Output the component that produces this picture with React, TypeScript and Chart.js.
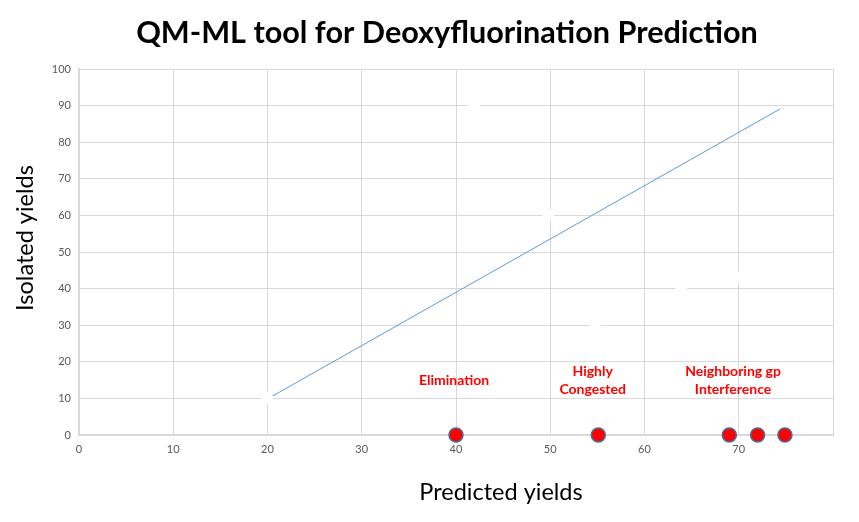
import React, { useEffect, useRef } from "react";
import { Chart, registerables } from "chart.js";

Chart.register(...registerables);

const titleText = "QM-ML tool for Deoxyfluorination Prediction";
const xTitle = "Predicted yields";
const yTitle = "Isolated yields";

// red flagged compounds (predicted, isolated)
const flaggedX = [40, 55.1, 69, 72, 74.9];
const flaggedY = [0, 0, 0, 0, 0];

// hidden (white) points
const hiddenX = [20, 41.9, 49.8, 54.8, 63.9, 70, 66.8];
const hiddenY = [10, 90.4, 60.1, 30, 40.4, 43, 73];

// trend line endpoints
const trendX = [20.3, 74.4];
const trendY = [10.3, 89.1];

// annotation labels
const noteLines = [["Elimination"], ["Highly", "Congested"], ["Neighboring gp", "Interference"]];
const noteX = [39.8, 54.5, 69.4];
const noteY = [15, 15, 15];

const FONT = "Lato, 'Open Sans', sans-serif";

const notesPlugin = {
  id: "notes",
  afterDatasetsDraw(chart: any) {
    const { ctx, scales } = chart;
    ctx.save();
    ctx.fillStyle = "#FF0000";
    ctx.font = `bold 14px ${FONT}`;
    ctx.textAlign = "center";
    ctx.textBaseline = "middle";
    noteLines.forEach((lines, i) => {
      const cx = scales.x.getPixelForValue(noteX[i]);
      const cy = scales.y.getPixelForValue(noteY[i]);
      const lh = 18;
      const start = cy - ((lines.length - 1) * lh) / 2;
      lines.forEach((t, j) => ctx.fillText(t, cx, start + j * lh));
    });
    ctx.restore();
  },
};

const titlePlugin = {
  id: "bigTitle",
  afterDraw(chart: any) {
    const { ctx } = chart;
    ctx.save();
    ctx.fillStyle = "#000";
    ctx.textAlign = "center";
    ctx.textBaseline = "middle";
    ctx.font = `bold 30.6px ${FONT}`;
    ctx.fillText(titleText, 447, 33);
    ctx.font = `23.5px ${FONT}`;
    ctx.fillText(xTitle, 501, 492);
    ctx.translate(25, 238);
    ctx.rotate(-Math.PI / 2);
    ctx.fillText(yTitle, 0, 0);
    ctx.restore();
  },
};

export default function App() {
  const ref = useRef<HTMLCanvasElement>(null);
  useEffect(() => {
    document.body.style.margin = "0";
    const chart = new Chart(ref.current!, {
      type: "scatter",
      data: {
        datasets: [
          {
            label: "flagged",
            data: flaggedX.map((x, i) => ({ x, y: flaggedY[i] })),
            backgroundColor: "#FF0000",
            borderColor: "#41719C",
            borderWidth: 1.5,
            pointRadius: 7,
            clip: false,
            order: 0,
          },
          {
            label: "hidden",
            data: hiddenX.map((x, i) => ({ x, y: hiddenY[i] })),
            backgroundColor: "#FFFFFF",
            borderColor: "#FFFFFF",
            borderWidth: 0,
            pointRadius: 6,
            order: 1,
          },
          {
            label: "trend",
            data: trendX.map((x, i) => ({ x, y: trendY[i] })),
            showLine: true,
            borderColor: "#5B9BD5",
            borderWidth: 1,
            pointRadius: 0,
            order: 2,
          },
        ],
      },
      options: {
        animation: false,
        responsive: false,
        layout: { padding: { top: 69, right: 26, left: 0, bottom: 0 } },
        plugins: { legend: { display: false }, tooltip: { enabled: false } },
        scales: {
          x: {
            type: "linear",
            min: 0,
            max: 80,
            ticks: {
              stepSize: 10,
              color: "#595959",
              font: { size: 11, family: FONT },
              padding: 8,
              callback: (v: any) => (v === 80 ? "" : v),
            },
            grid: { color: "#D9D9D9", drawTicks: false },
            border: { color: "#D9D9D9", width: 2 },
            afterFit: (s: any) => {
              s.height = 87;
            },
          },
          y: {
            type: "linear",
            min: 0,
            max: 100,
            ticks: {
              stepSize: 10,
              color: "#595959",
              font: { size: 11, family: FONT },
              padding: 8,
            },
            grid: { color: "#D9D9D9", drawTicks: false },
            border: { color: "#D9D9D9", width: 2 },
            afterFit: (s: any) => {
              s.width = 79;
            },
          },
        },
      },
      plugins: [notesPlugin, titlePlugin],
    });
    return () => chart.destroy();
  }, []);
  return <canvas ref={ref} width={859} height={522} style={{ display: "block" }} />;
}
